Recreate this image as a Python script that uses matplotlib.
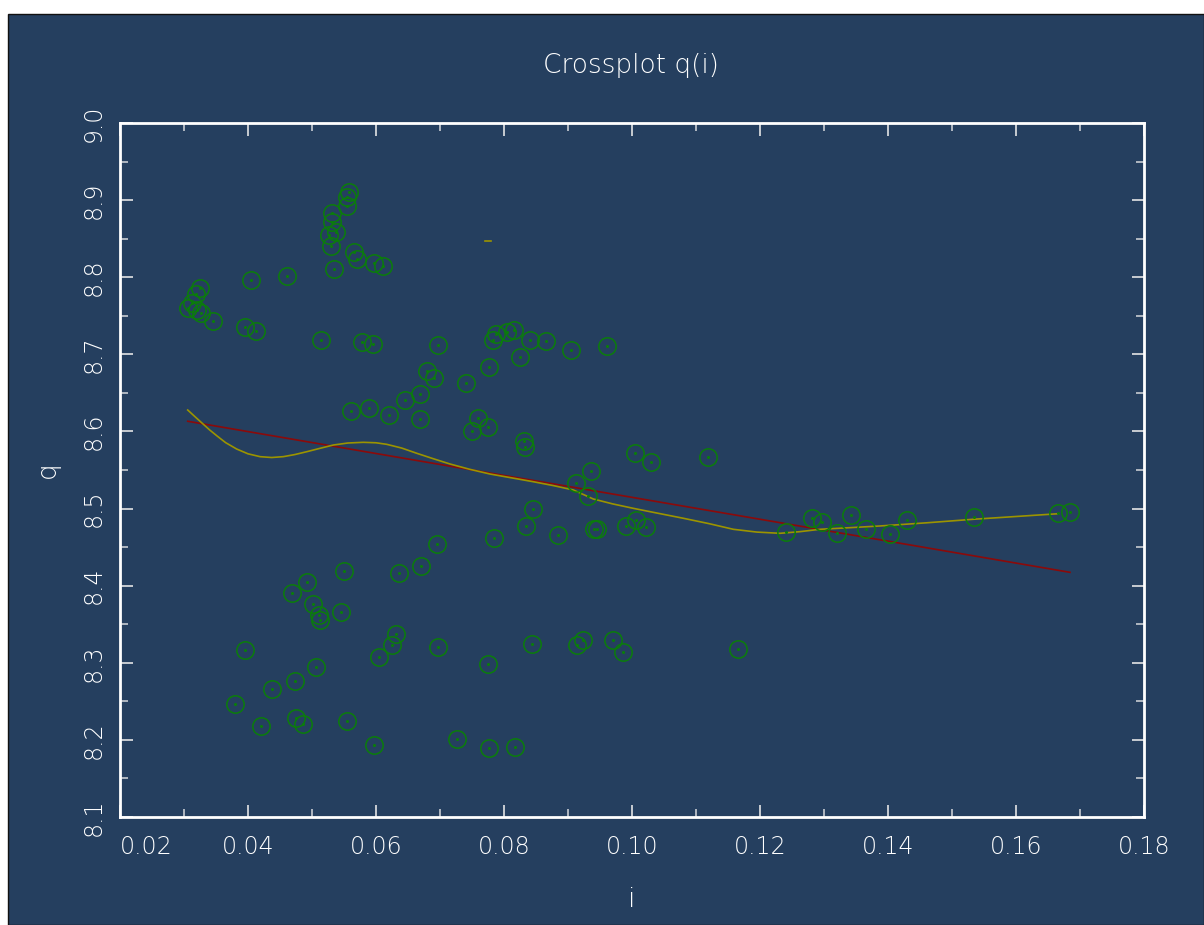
import matplotlib
matplotlib.use("Agg")
import matplotlib.pyplot as plt
from matplotlib.patches import Rectangle
from matplotlib.ticker import MultipleLocator, FixedLocator

# --- data -------------------------------------------------------------
i_vals = [
    0.0306, 0.0313, 0.0318, 0.0325, 0.0321, 0.0326, 0.0346, 0.0404, 0.0461, 0.0395,
    0.0413, 0.0558, 0.0555, 0.0555, 0.0532, 0.0532, 0.0538, 0.0526, 0.0529, 0.0535,
    0.0566, 0.0570, 0.0597, 0.0611, 0.0514, 0.0578, 0.0596, 0.0697, 0.0680, 0.0691,
    0.0646, 0.0668, 0.0669, 0.0561, 0.0589, 0.0620, 0.0740, 0.0777, 0.0787, 0.0783,
    0.0805, 0.0816, 0.0840, 0.0865, 0.0825, 0.0905, 0.0961, 0.0759, 0.0750, 0.0775,
    0.0832, 0.0833, 0.1005, 0.1030, 0.1118, 0.0936, 0.0913, 0.0931, 0.0845, 0.0835,
    0.0784, 0.0696, 0.0884, 0.0940, 0.0946, 0.0990, 0.1007, 0.1022, 0.0670, 0.0636,
    0.0550, 0.0492, 0.0469, 0.0501, 0.0511, 0.0513, 0.0545, 0.0395, 0.0631, 0.0625,
    0.0605, 0.0697, 0.0775, 0.0507, 0.0474, 0.0438, 0.0379, 0.0421, 0.0475, 0.0486,
    0.0555, 0.0597, 0.0727, 0.0777, 0.0817, 0.0843, 0.0914, 0.0924, 0.0971, 0.0986,
    0.1165, 0.1240, 0.1282, 0.1297, 0.1342, 0.1320, 0.1365, 0.1403, 0.1429, 0.1535,
    0.1666, 0.1684,
]
q_vals = [
    8.760, 8.766, 8.778, 8.786, 8.758, 8.753, 8.743, 8.796, 8.801, 8.735,
    8.730, 8.910, 8.904, 8.893, 8.883, 8.871, 8.859, 8.855, 8.840, 8.811,
    8.833, 8.824, 8.818, 8.815, 8.719, 8.716, 8.713, 8.712, 8.678, 8.669,
    8.641, 8.648, 8.616, 8.626, 8.631, 8.621, 8.663, 8.684, 8.727, 8.719,
    8.729, 8.731, 8.719, 8.717, 8.696, 8.705, 8.711, 8.617, 8.600, 8.606,
    8.587, 8.580, 8.572, 8.560, 8.567, 8.549, 8.533, 8.516, 8.500, 8.478,
    8.462, 8.454, 8.466, 8.474, 8.473, 8.478, 8.485, 8.476, 8.425, 8.417,
    8.419, 8.405, 8.390, 8.376, 8.362, 8.355, 8.366, 8.316, 8.337, 8.323,
    8.307, 8.321, 8.298, 8.294, 8.277, 8.266, 8.247, 8.218, 8.228, 8.221,
    8.225, 8.194, 8.201, 8.190, 8.191, 8.325, 8.323, 8.329, 8.329, 8.314,
    8.318, 8.470, 8.488, 8.482, 8.492, 8.468, 8.474, 8.467, 8.485, 8.489,
    8.494, 8.496,
]

# straight-line trend
trend_i = [0.03058, 0.16844]
trend_q = [8.6132, 8.4173]

# smoothed trend
smooth_i = [0.03058, 0.03180, 0.03297, 0.03400, 0.03511, 0.03650, 0.03823,
            0.04000, 0.04188, 0.04370, 0.04552, 0.04730, 0.04917, 0.05120,
            0.05333, 0.05560, 0.05802, 0.06000, 0.06167, 0.06400, 0.06636,
            0.06900, 0.07156, 0.07460, 0.07781, 0.08120, 0.08458, 0.08770,
            0.09083, 0.09395, 0.09700, 0.10020, 0.10400, 0.10802, 0.11200,
            0.11583, 0.11950, 0.12313, 0.12620, 0.12938, 0.13400, 0.13875,
            0.14600, 0.15333, 0.16000, 0.16661]
smooth_q = [8.6278, 8.6185, 8.6097, 8.6020, 8.5945, 8.5855, 8.5772,
            8.5710, 8.5673, 8.5662, 8.5673, 8.5700, 8.5737, 8.5780,
            8.5824, 8.5850, 8.5859, 8.5853, 8.5833, 8.5785, 8.5717,
            8.5645, 8.5578, 8.5510, 8.5448, 8.5398, 8.5348, 8.5298,
            8.5241, 8.5124, 8.5060, 8.5003, 8.4940, 8.4874, 8.4805,
            8.4731, 8.4695, 8.4679, 8.4700, 8.4731, 8.4752, 8.4774,
            8.4815, 8.4861, 8.4897, 8.4933]

# short stray segment
stub_i = [0.0770, 0.0780]
stub_q = [8.847, 8.847]

x_ticks = [0.02, 0.04, 0.06, 0.08, 0.10, 0.12, 0.14, 0.16, 0.18]
x_labels = ["0.02", "0.04", "0.06", "0.08", "0.10", "0.12", "0.14", "0.16", "0.18"]
y_ticks = [8.1, 8.2, 8.3, 8.4, 8.5, 8.6, 8.7, 8.8, 8.9, 9.0]
y_labels = ["8.1", "8.2", "8.3", "8.4", "8.5", "8.6", "8.7", "8.8", "8.9", "9.0"]

# --- style --------------------------------------------------------------
BG = "#253f5f"
FG = "#ffffff"
TICK = "#c8ccd2"
plt.rcParams["font.family"] = ["DejaVu Sans"]
plt.rcParams["font.weight"] = "light"
plt.rcParams["axes.labelweight"] = "light"

W, H = 1204, 925
fig = plt.figure(figsize=(W / 100, H / 100), dpi=100, facecolor="white")
fig.patches.append(Rectangle((8 / W, 0), 1 - 8 / W, 1 - 14 / H,
                             transform=fig.transFigure, facecolor=BG,
                             edgecolor="#111111", linewidth=1.0, zorder=-10))

ax = fig.add_axes([120 / W, 1 - 817 / H, (1144 - 120) / W, (817 - 123) / H])
ax.set_zorder(5)
ax.set_facecolor(BG)

ax.plot(i_vals, q_vals, linestyle="none", marker="o", markersize=12.5,
        markerfacecolor="none", markeredgecolor="#0b7d0b", markeredgewidth=1.1,
        zorder=3)
ax.plot(i_vals, q_vals, linestyle="none", marker="o", markersize=1.2,
        color="#0b7d0b", zorder=3)
ax.plot(trend_i, trend_q, color="#8b0a0a", linewidth=1.2, zorder=2)
ax.plot(smooth_i, smooth_q, color="#9c9400", linewidth=1.2, zorder=2)
ax.plot(stub_i, stub_q, color="#9c9400", linewidth=1.2, zorder=2)

ax.set_xlim(0.02, 0.18)
ax.set_ylim(8.1, 9.0)

ax.xaxis.set_major_locator(FixedLocator(x_ticks))
ax.yaxis.set_major_locator(FixedLocator(y_ticks))
ax.xaxis.set_minor_locator(MultipleLocator(0.01))
ax.yaxis.set_minor_locator(MultipleLocator(0.05))
ax.set_xticklabels(x_labels)
ax.set_yticklabels(y_labels, rotation=90, va="center")
ax.get_xticklabels()[0].set_horizontalalignment("left")

ax.tick_params(which="both", direction="in", top=True, right=True,
               colors=TICK, labelcolor=FG, labelsize=17)
ax.tick_params(which="major", length=9, width=1.4)
ax.tick_params(which="minor", length=6, width=1.2)
ax.tick_params(axis="x", which="major", pad=13)
ax.tick_params(axis="y", which="major", pad=10)

for s in ax.spines.values():
    s.set_color(FG)
    s.set_linewidth(2.0)

ax.set_xlabel("i", color=FG, fontsize=19, fontweight="light", labelpad=20)
ax.set_ylabel("q", color=FG, fontsize=19, fontweight="light", labelpad=16)
fig.text(631 / W, 1 - 65 / H, "Crossplot q(i)", color=FG, fontsize=19,
         fontweight="light", ha="center", va="center")

fig.savefig("out.png", dpi=100, facecolor="white")
